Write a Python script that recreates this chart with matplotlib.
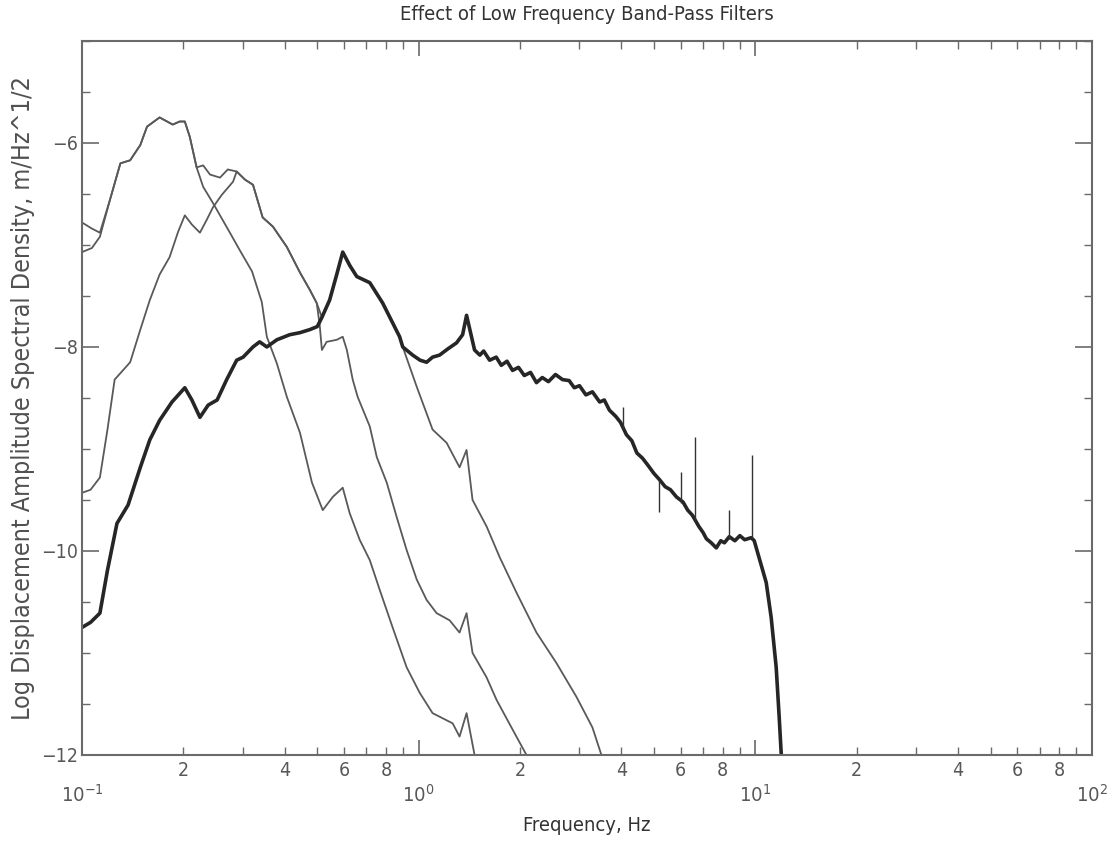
import numpy as np
import matplotlib
matplotlib.use("Agg")
import matplotlib.pyplot as plt
from matplotlib.ticker import FixedLocator, FuncFormatter, LogFormatterMathtext

plt.rcParams['font.family'] = ['DejaVu Sans']
plt.rcParams['font.stretch'] = 'condensed'

# ---- data (frequency in Hz, log amplitude) ----
# A and B share the low-frequency rise up to the main peak
a_head_f = [0.100, 0.107, 0.113]
a_head_v = [-6.78, -6.84, -6.88]
b_head_f = [0.100, 0.107, 0.113]
b_head_v = [-7.07, -7.03, -6.92]

rise_f = [0.121, 0.130, 0.139, 0.149, 0.156, 0.170, 0.186, 0.195, 0.202, 0.209, 0.219]
rise_v = [-6.56, -6.20, -6.17, -6.02, -5.84, -5.75, -5.82, -5.79, -5.79, -5.94, -6.24]

a_tail_f = [0.229, 0.245, 0.275, 0.294, 0.320, 0.342, 0.354, 0.379, 0.406, 0.444,
            0.482, 0.519, 0.556, 0.595, 0.624, 0.668, 0.716, 0.766, 0.837, 0.921,
            1.007, 1.100, 1.262, 1.323, 1.388, 1.466]
a_tail_v = [-6.43, -6.59, -6.88, -7.05, -7.26, -7.56, -7.90, -8.16, -8.49, -8.84,
            -9.33, -9.60, -9.47, -9.38, -9.63, -9.89, -10.09, -10.38, -10.75, -11.14,
            -11.39, -11.59, -11.69, -11.82, -11.59, -12.0]

b_plat_f = [0.229, 0.240, 0.257, 0.271]
b_plat_v = [-6.22, -6.31, -6.34, -6.26]

# B and C coincide between 0.29 and 0.5 Hz
bc_f = [0.288, 0.305, 0.322, 0.344, 0.369, 0.406, 0.444, 0.475, 0.498]
bc_v = [-6.28, -6.36, -6.41, -6.73, -6.82, -7.02, -7.27, -7.44, -7.57]

b_tail_f = [0.508, 0.516, 0.533, 0.571, 0.595, 0.612, 0.637, 0.659, 0.716, 0.751,
            0.804, 0.861, 0.921, 0.987, 1.056, 1.131, 1.236, 1.323, 1.388, 1.446,
            1.592, 1.704, 1.901, 2.091]
b_tail_v = [-7.78, -8.03, -7.95, -7.93, -7.90, -8.03, -8.32, -8.49, -8.78, -9.08,
            -9.33, -9.67, -9.99, -10.28, -10.48, -10.61, -10.68, -10.80, -10.61, -11.00,
            -11.24, -11.46, -11.75, -12.0]

c_head_f = [0.100, 0.106, 0.113, 0.119, 0.125, 0.139, 0.149, 0.159, 0.170, 0.182,
            0.193, 0.202, 0.212, 0.224, 0.235, 0.245, 0.260, 0.281]
c_head_v = [-9.43, -9.40, -9.28, -8.81, -8.32, -8.15, -7.83, -7.54, -7.29, -7.12,
            -6.87, -6.71, -6.80, -6.88, -6.75, -6.63, -6.51, -6.38]

# C and D coincide around the 0.6 Hz peak
cd_f = [0.516, 0.544, 0.571, 0.595, 0.624, 0.655, 0.716, 0.782, 0.878, 0.897]
cd_v = [-7.71, -7.54, -7.29, -7.07, -7.20, -7.31, -7.37, -7.57, -7.90, -8.00]

c_tail_f = [0.987, 1.100, 1.211, 1.323, 1.388, 1.446, 1.592, 1.740, 1.954, 2.239,
            2.568, 2.943, 3.283, 3.491]
c_tail_v = [-8.39, -8.81, -8.94, -9.18, -9.01, -9.50, -9.76, -10.06, -10.41, -10.80,
            -11.10, -11.43, -11.73, -12.0]

d_head_f = [0.100, 0.106, 0.113, 0.119, 0.127, 0.137, 0.149, 0.159, 0.170, 0.185,
            0.202, 0.212, 0.224, 0.237, 0.252, 0.269, 0.288, 0.301, 0.322, 0.337,
            0.354, 0.379, 0.414, 0.444, 0.475, 0.500]
d_head_v = [-10.75, -10.70, -10.61, -10.19, -9.73, -9.55, -9.18, -8.91, -8.72, -8.54,
            -8.40, -8.52, -8.69, -8.57, -8.52, -8.32, -8.13, -8.10, -8.00, -7.95,
            -8.00, -7.93, -7.88, -7.86, -7.83, -7.80]

# broad-band curve beyond 0.9 Hz, with its visible jitter
d_tail_f = [0.960, 1.010, 1.056, 1.100, 1.154, 1.220, 1.296, 1.351, 1.388, 1.466,
            1.520, 1.560, 1.625, 1.700, 1.760, 1.830, 1.901, 1.980, 2.060, 2.150,
            2.239, 2.330, 2.430, 2.550, 2.675, 2.800, 2.900, 3.005, 3.140, 3.283,
            3.450, 3.560, 3.688, 3.850, 3.980, 4.142, 4.300, 4.450, 4.622, 4.800,
            5.000, 5.192, 5.400, 5.600, 5.831, 6.100, 6.300, 6.505, 6.800, 7.000,
            7.157, 7.400, 7.662, 7.900, 8.100, 8.373, 8.700, 9.000, 9.300, 9.730,
            9.931, 10.78, 11.15, 11.54, 11.78, 11.95]
d_tail_v = [-8.08, -8.13, -8.15, -8.10, -8.08, -8.02, -7.96, -7.88, -7.69, -8.03,
            -8.08, -8.04, -8.13, -8.10, -8.18, -8.14, -8.23, -8.20, -8.28, -8.25,
            -8.35, -8.30, -8.34, -8.27, -8.32, -8.33, -8.40, -8.38, -8.47, -8.44,
            -8.54, -8.52, -8.62, -8.68, -8.74, -8.86, -8.92, -9.04, -9.09, -9.16,
            -9.24, -9.30, -9.37, -9.40, -9.47, -9.52, -9.60, -9.65, -9.76, -9.82,
            -9.88, -9.92, -9.97, -9.90, -9.92, -9.86, -9.90, -9.85, -9.89, -9.87,
            -9.90, -10.31, -10.65, -11.14, -11.63, -12.0]

# narrow line spikes on the broad-band curve
spike_f = [4.06, 5.19, 6.03, 6.64, 8.37, 9.80]
spike_base = [-8.80, -9.30, -9.53, -9.70, -9.88, -9.87]
spike_tip = [-8.59, -9.62, -9.23, -8.88, -9.60, -9.06]

# assemble the four curves
curve_a = (a_head_f + rise_f + a_tail_f, a_head_v + rise_v + a_tail_v)
curve_b = (b_head_f + rise_f + b_plat_f + bc_f + b_tail_f,
           b_head_v + rise_v + b_plat_v + bc_v + b_tail_v)
curve_c = (c_head_f + bc_f + cd_f + c_tail_f, c_head_v + bc_v + cd_v + c_tail_v)
curve_d = (d_head_f + cd_f + d_tail_f, d_head_v + cd_v + d_tail_v)

axis_col = '#6a6a6a'
text_col = '#585858'

fig = plt.figure(figsize=(11.13, 8.44), dpi=100)
ax = fig.add_axes([0.0737, 0.1055, 0.9073, 0.846])

for f, v in (curve_a, curve_b, curve_c):
    ax.plot(f, v, color='#595959', lw=1.3)
ax.plot(curve_d[0], curve_d[1], color='#262626', lw=2.6)
ax.vlines(spike_f, spike_base, spike_tip, color='#333333', lw=1.0)

ax.set_xscale('log')
ax.set_xlim(0.1, 100)
ax.set_ylim(-12, -5)

# x ticks: decades labelled 10^n, minor 2,4,6,8 labelled
ax.xaxis.set_major_locator(FixedLocator([0.1, 1, 10, 100]))
ax.xaxis.set_major_formatter(LogFormatterMathtext())
minors = [m * 10.0 ** e for e in (-1, 0, 1) for m in range(2, 10)]
ax.xaxis.set_minor_locator(FixedLocator(minors))

def minor_label(x, pos):
    m = int(round(x / 10 ** np.floor(np.log10(x) + 1e-9)))
    return str(m) if m in (2, 4, 6, 8) else ''

ax.xaxis.set_minor_formatter(FuncFormatter(minor_label))

ax.set_yticks([-12, -10, -8, -6])
ax.set_yticks(np.arange(-12, -4.9, 0.5), minor=True)

ax.tick_params(which='both', direction='in', top=True, right=True,
               colors=axis_col, labelcolor=text_col, labelsize=14)
ax.tick_params(axis='x', which='major', length=11, width=1.2, pad=21,
               labelsize=14.5)
ax.tick_params(axis='x', which='minor', length=6, width=1.0, pad=4)
ax.tick_params(axis='y', which='major', length=12, width=1.2, pad=3)
ax.tick_params(axis='y', which='minor', length=6, width=1.0)

for s in ax.spines.values():
    s.set_color(axis_col)
    s.set_linewidth(1.5)

ax.set_title('Effect of Low Frequency Band-Pass Filters', fontsize=14.5,
             color='#333333', pad=15)
ax.set_xlabel('Frequency, Hz', fontsize=14.5, color='#333333', labelpad=7)
ax.set_ylabel('Log Displacement Amplitude Spectral Density, m/Hz^1/2',
              fontsize=18, color='#505050', labelpad=4)

fig.savefig('out.png', dpi=100)
